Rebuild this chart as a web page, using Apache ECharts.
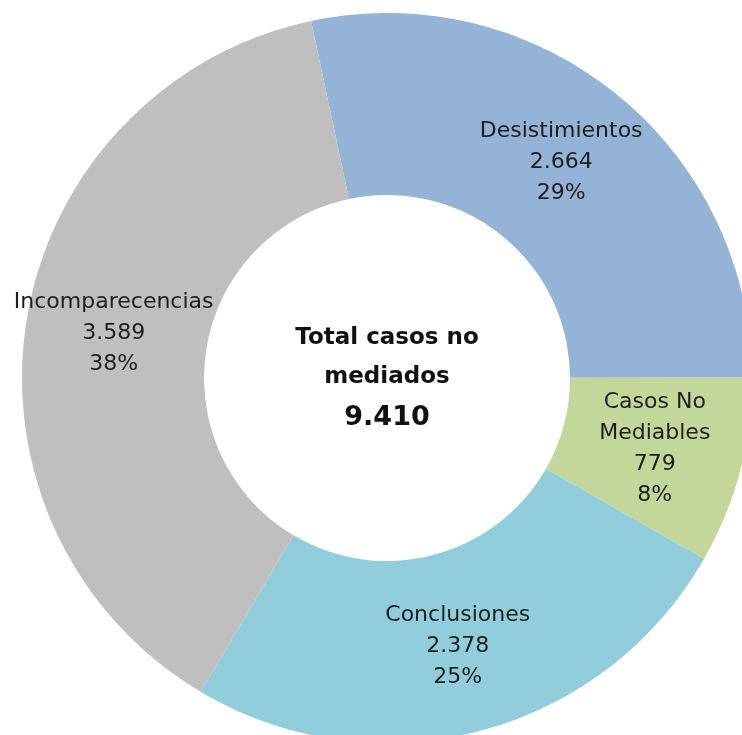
<!DOCTYPE html>
<html>
<head>
<meta charset="utf-8">
<script src="https://cdn.jsdelivr.net/npm/echarts@6/dist/echarts.min.js"></script>
<style>
html,body{margin:0;padding:0;background:#fff;}
#c{width:742px;height:735px;}
</style>
</head>
<body>
<div id="c"></div>
<script>
const categories = ['Desistimientos', 'Casos No\nMediables', 'Conclusiones', 'Incomparecencias'];
const values = [2664, 779, 2378, 3589];
const colors = ['#95B3D7', '#C4D79B', '#92CDDC', '#BFBFBF'];
const totalLabel = ['Total casos no', 'mediados'];

function fmt(n) {
  return String(n).replace(/\B(?=(\d{3})+(?!\d))/g, '.');
}
const total = values.reduce((a, b) => a + b, 0);
const FONT = 'DejaVu Sans';

const chart = echarts.init(document.getElementById('c'));
chart.setOption({
  animation: false,
  backgroundColor: '#ffffff',
  title: {
    text: '{a|' + totalLabel[0] + '}\n{a|' + totalLabel[1] + '}\n{b|' + fmt(total) + '}',
    left: 387,
    top: 319,
    padding: 0,
    textAlign: 'center',
    textStyle: {
      rich: {
        a: { fontFamily: FONT, fontWeight: 'bold', fontSize: 23, color: '#111', lineHeight: 39, align: 'center' },
        b: { fontFamily: FONT, fontWeight: 'bold', fontSize: 27, color: '#111', lineHeight: 41, align: 'center' }
      }
    }
  },
  series: [{
    type: 'pie',
    center: [387, 378],
    radius: [183, 365],
    startAngle: 102,
    clockwise: true,
    percentPrecision: 0,
    silent: true,
    itemStyle: { borderWidth: 0 },
    label: {
      show: true,
      position: 'inside',
      fontFamily: FONT,
      fontSize: 22,
      lineHeight: 31,
      color: '#1e1e1e',
      formatter: p => p.name + '\n' + fmt(p.value) + '\n' + p.percent + '%'
    },
    labelLine: { show: false },
    data: categories.map((c, i) => ({ name: c, value: values[i], itemStyle: { color: colors[i] } }))
  }]
});
</script>
</body>
</html>
